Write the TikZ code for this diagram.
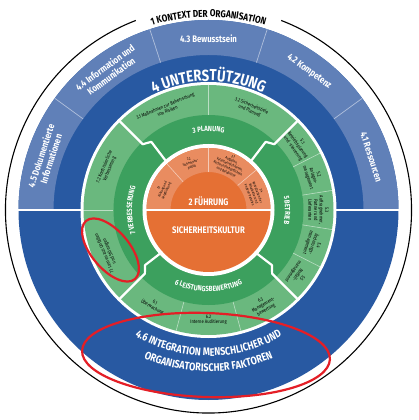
\documentclass[tikz,border=0pt]{standalone}
\usepackage{fontspec}
\setmainfont{Fira Sans}
\newfontfamily\narrowfont[FakeStretch=0.82]{Fira Sans}
\usetikzlibrary{decorations.text}
\definecolor{blueL}{RGB}{96,128,184}
\definecolor{blueD}{RGB}{40,89,162}
\definecolor{greenL}{RGB}{106,184,126}
\definecolor{greenD}{RGB}{60,160,94}
\definecolor{orangeL}{RGB}{233,140,96}
\definecolor{orangeD}{RGB}{229,112,52}
\definecolor{markred}{RGB}{228,30,38}
\begin{document}
\begin{tikzpicture}[x=1pt,y=1pt,
    itemtext/.style={font=\narrowfont\fontsize{5}{5.6}\selectfont,align=center,inner sep=0pt},
    leadtext/.style={font=\narrowfont\fontsize{3.6}{4.2}\selectfont,align=center,inner sep=0pt},
    bluetext/.style={font=\narrowfont\bfseries\fontsize{9.5}{10.5}\selectfont,text=white,align=center,inner sep=0pt},
    bigtext/.style={font=\narrowfont\bfseries\fontsize{9.5}{10}\selectfont,text=white,inner sep=0pt},
    subline/.style={white,opacity=0.55,line width=0.6},
    mainline/.style={white,line width=2.2,line join=round},
    marker/.style={markred,line width=2.2},
    arctext/.style={decorate,decoration={text along path,text align=center,text={#1}}}]
\fill[white] (-208.5,-210) rectangle (210.5,210);
\useasboundingbox (-208.5,-210) rectangle (210.5,210);
\draw[line width=1.1] (111:203) arc[start angle=111,end angle=429,radius=203];
\path[arctext=|\narrowfont\bfseries\fontsize{10}{10}\selectfont|1 KONTEXT DER ORGANISATION] (120:193) arc[start angle=120,end angle=60,radius=193];
\fill[blueD] (0,0) circle[radius=190];
\fill[blueL] (0:190) arc[start angle=0,end angle=180,radius=190] -- (180:155) arc[start angle=180,end angle=0,radius=155] -- cycle;
\foreach \a in {36,72,108,144}
  \draw[white,opacity=0.5,line width=0.7] (\a:155) -- (\a:190);
\draw[white,line width=2] (-191,0) -- (-127,0);
\draw[white,line width=2] (127,0) -- (191,0);
\foreach \a/\t/\n in {162/{4.5 Dokumentierte\\Informationen}/doku, 126/{4.4 Information und\\Kommunikation}/info, 90/{4.3 Bewusstsein}/bewusst, 54/{4.2 Kompetenz}/kompetenz, 18/{4.1 Ressourcen}/ressourcen}
  \node[bluetext,rotate=\a-90] (\n) at (\a:171) {\t};
\path[arctext=|\narrowfont\bfseries\fontsize{16}{16}\selectfont\color{white}|4 UNTERSTÜTZUNG] (150:129) arc[start angle=150,end angle=30,radius=129];
\path[arctext=|\narrowfont\bfseries\fontsize{11}{11}\selectfont\color{white}|4.6 INTEGRATION MENSCHLICHER UND] (210:146) arc[start angle=210,end angle=330,radius=146];
\path[arctext=|\narrowfont\bfseries\fontsize{11}{11}\selectfont\color{white}|ORGANISATORISCHER FAKTOREN] (215:161.5) arc[start angle=215,end angle=325,radius=161.5];
\fill[white] (0,0) circle[radius=128];
\fill[greenL] (0,0) circle[radius=125];
\fill[greenD] (0,0) circle[radius=95];
\fill[white] (0,0) circle[radius=66];
\fill[orangeD] (0,0) circle[radius=62];
\fill[orangeL] (0:62) arc[start angle=0,end angle=180,radius=62] -- (180:38) arc[start angle=180,end angle=0,radius=38] -- cycle;
\draw[white,line width=1.6] (-64,0) -- (64,0);
\foreach \a in {90,27,9,-9,-27,180,255,285}
  \draw[subline] (\a:95) -- (\a:125);
\foreach \a in {132,90,40}
  \draw[subline] (\a:38) -- (\a:62);
\draw[mainline] (135:126) -- (135:93) -- (130:89) -- (131:65);
\draw[mainline] (45:126) -- (45:93) -- (50:89) -- (49:65);
\draw[mainline] (225:126) -- (225:90) -- (221:84) -- (222:65);
\draw[mainline] (315:126) -- (315:90) -- (319:84) -- (318:65);
\path[arctext=|\narrowfont\bfseries\fontsize{7.5}{7.5}\selectfont\color{white}|3 PLANUNG] (135:78.5) arc[start angle=135,end angle=45,radius=78.5];
\path[arctext=|\narrowfont\bfseries\fontsize{7.5}{7.5}\selectfont\color{white}|5 BETRIEB] (40:76.5) arc[start angle=40,end angle=-40,radius=76.5];
\path[arctext=|\narrowfont\bfseries\fontsize{7.5}{7.5}\selectfont\color{white}|6 LEISTUNGSBEWERTUNG] (220:81.5) arc[start angle=220,end angle=320,radius=81.5];
\path[arctext=|\narrowfont\bfseries\fontsize{7.5}{7.5}\selectfont\color{white}|7 VERBESSERUNG] (220:76.5) arc[start angle=220,end angle=140,radius=76.5];
\foreach \a/\t/\n in {112.5/{3.1 Maßnahmen zur Beherrschung\\von Risiken}/risiken, 67.5/{3.2 Sicherheitsziele\\und Planung}/ziele, 36/{5.1\\Betriebsplanung\\und -steuerung}/steuerung, 18/{5.2\\Anlagen-\\management}/anlagen, 0/{5.3\\Auftragnehmer,\\Partner und\\Lieferanten}/partner, -18/{5.4\\Änderungs-\\management}/aenderung, -36/{5.5\\Notfall-\\management}/notfall, 157.5/{7.2 Kontinuierliche\\Verbesserung}/kvp, 202.5/{7.1 Lernen aus Unfällen\\und Störungen}/lernen}
  \node[itemtext,rotate=\a-90] (\n) at (\a:110) {\t};
\foreach \a/\t/\n in {240/{6.1\\Überwachung}/ueberwachung, 270/{6.2\\Interne Auditierung}/audit, 300/{6.3\\Management-\\bewertung}/review}
  \node[itemtext,rotate=\a+90] (\n) at (\a:110) {\t};
\foreach \a/\t/\n in {156/{2.1\\Führung und\\Verpflichtung}/verpflichtung, 111/{2.2\\Sicherheits-\\politik}/politik, 65/{2.3\\Aufgaben,\\Verantwortlichkeiten,\\Rechenschaftspflichten\\und Befugnisse}/aufgaben, 20/{2.4\\Konsultation der\\Mitarbeiter und\\anderer Parteien}/konsultation}
  \node[leadtext,rotate=\a-90] (\n) at (\a:50) {\t};
\node[bigtext] (fuehrung) at (0,9) {2 FÜHRUNG};
\node[bigtext] (kultur) at (0,-20) {SICHERHEITSKULTUR};
\draw[marker,rotate around={-50:(-98,-40)}] (-98,-40) ellipse[x radius=38,y radius=19];
\draw[marker,rotate around={-2:(-2.5,-145)}] (-2.5,-145) ellipse[x radius=124,y radius=42];
\end{tikzpicture}
\end{document}
